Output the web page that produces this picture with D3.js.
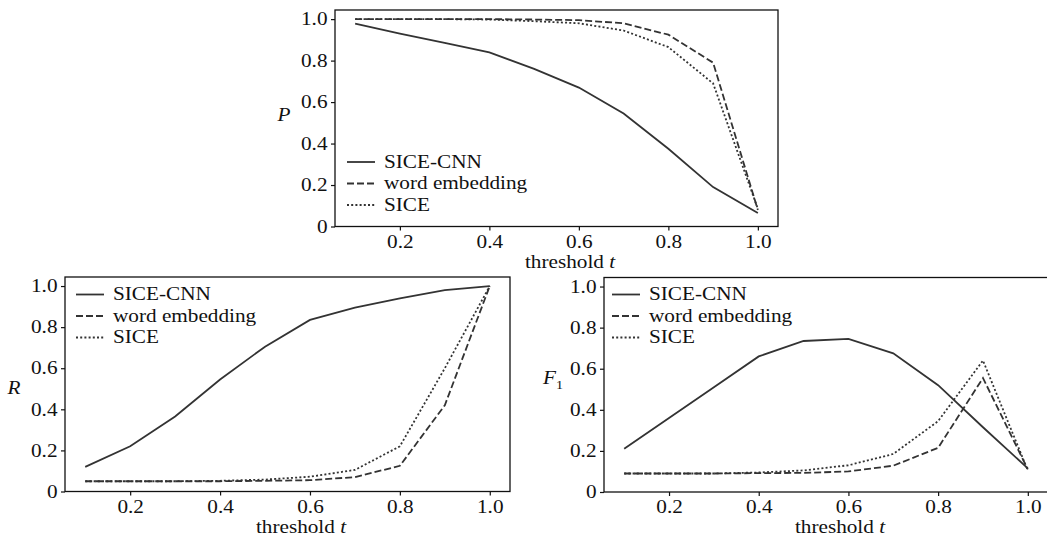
<!DOCTYPE html>
<html>
<head>
<meta charset="utf-8">
<script src="https://cdn.jsdelivr.net/npm/d3@7/dist/d3.min.js"></script>
</head>
<body style="margin:0;background:#fff">
<svg id="chart" width="1047" height="540" style="display:block"></svg>
<script>
// threshold values on the x axis
const thresholds = [0.1, 0.2, 0.3, 0.4, 0.5, 0.6, 0.7, 0.8, 0.9, 1.0];
const xTicks = [0.2, 0.4, 0.6, 0.8, 1.0];
const yTicks = [0, 0.2, 0.4, 0.6, 0.8, 1.0];
const seriesNames = ["SICE-CNN", "word embedding", "SICE"];

// P (precision)
const cnnP  = [0.978, 0.93, 0.885, 0.84, 0.76, 0.67, 0.545, 0.375, 0.19, 0.065];
const wordP = [1.0, 1.0, 1.0, 1.0, 0.998, 0.995, 0.98, 0.925, 0.79, 0.08];
const siceP = [1.0, 1.0, 1.0, 0.998, 0.99, 0.98, 0.945, 0.865, 0.69, 0.085];

// R (recall)
const cnnR  = [0.12, 0.22, 0.365, 0.545, 0.705, 0.835, 0.895, 0.94, 0.98, 1.0];
const wordR = [0.05, 0.05, 0.05, 0.05, 0.052, 0.055, 0.07, 0.125, 0.42, 1.0];
const siceR = [0.05, 0.05, 0.05, 0.052, 0.058, 0.072, 0.105, 0.22, 0.6, 1.0];

// F1
const cnnF  = [0.21, 0.36, 0.51, 0.66, 0.735, 0.745, 0.675, 0.52, 0.315, 0.115];
const wordF = [0.09, 0.09, 0.09, 0.092, 0.093, 0.1, 0.128, 0.215, 0.555, 0.11];
const siceF = [0.09, 0.09, 0.09, 0.095, 0.105, 0.13, 0.185, 0.345, 0.64, 0.105];

const svg = d3.select("#chart");
const lineColor = "#333";
const dashes = [null, "7,3", "2,2.2"];
const stretch = 1.18; // glyphs in the figure are wider than plain Times

//Make every text a bit wider around its own anchor, like the original figure
function widen(sel) {
    sel.each(function () {
        let ax = +(this.getAttribute("x") || 0);
        d3.select(this).attr("transform",
            "translate(" + ax + ",0) scale(" + stretch + ",1) translate(" + (-ax) + ",0)");
    });
}

function drawPanel(p) {
    let x = d3.scaleLinear().domain([0.055, 1.045]).range([p.left, p.right]);
    let y = d3.scaleLinear().domain([0, 1.044]).range([p.bottom, p.top]);
    let g = svg.append("g");

    //x axis
    let xa = g.append("g")
        .attr("transform", "translate(0," + p.bottom + ")")
        .call(d3.axisBottom(x).tickValues(xTicks).tickFormat(d3.format(".1f")).tickSize(4));
    xa.select(".domain").remove();
    xa.selectAll("line").attr("stroke", "#111").attr("stroke-width", 1.2);
    xa.selectAll("text").attr("dy", null).attr("y", 21.5);

    //y axis
    let ya = g.append("g")
        .attr("transform", "translate(" + p.left + ",0)")
        .call(d3.axisLeft(y).tickValues(yTicks).tickFormat(d => d === 0 ? "0" : d.toFixed(1)).tickSize(4).tickPadding(3.5));
    ya.select(".domain").remove();
    ya.selectAll("line").attr("stroke", "#111").attr("stroke-width", 1.2);

    //frame
    g.append("rect")
        .attr("x", p.left).attr("y", p.top)
        .attr("width", p.right - p.left).attr("height", p.bottom - p.top)
        .attr("fill", "none").attr("stroke", "#111").attr("stroke-width", 1.3);

    //lines
    let line = d3.line().x((d, i) => x(thresholds[i])).y(d => y(d));
    p.series.forEach((s, i) => {
        g.append("path")
            .datum(s)
            .attr("d", line)
            .attr("fill", "none")
            .attr("stroke", lineColor)
            .attr("stroke-width", 1.8)
            .attr("stroke-dasharray", dashes[i]);
    });

    //legend
    seriesNames.forEach((name, i) => {
        let by = p.legY + i * 21.5;
        g.append("line")
            .attr("x1", p.legX).attr("x2", p.legX + 28)
            .attr("y1", by - 6).attr("y2", by - 6)
            .attr("stroke", lineColor).attr("stroke-width", 1.8)
            .attr("stroke-dasharray", dashes[i]);
        g.append("text")
            .attr("x", p.legX + 37).attr("y", by)
            .text(name);
    });

    //x label
    let xl = g.append("text")
        .attr("x", p.xLabelX).attr("y", p.bottom + 41.5)
        .attr("text-anchor", "middle");
    xl.append("tspan").text("threshold ");
    xl.append("tspan").attr("font-style", "italic").text("t");

    //y label
    let yl = g.append("text")
        .attr("x", p.yLabelX).attr("y", p.yLabelY)
        .attr("text-anchor", "middle");
    yl.append("tspan").attr("font-style", "italic").text(p.yName);
    if (p.yName === "F") {
        yl.append("tspan").attr("class", "sub").attr("dy", 5).text("1");
    }

    g.selectAll("text")
        .attr("font-family", "Liberation Serif")
        .attr("font-size", 18)
        .attr("fill", "#111");
    g.selectAll("tspan.sub").attr("font-size", 12);
    widen(g.selectAll("text"));
}

drawPanel({
    left: 335, right: 778, top: 10, bottom: 226.5,
    series: [cnnP, wordP, siceP],
    legX: 347, legY: 168,
    xLabelX: 570, yLabelX: 284, yLabelY: 121, yName: "P"
});

drawPanel({
    left: 65, right: 510, top: 277, bottom: 491.5,
    series: [cnnR, wordR, siceR],
    legX: 76, legY: 300.5,
    xLabelX: 301, yLabelX: 14, yLabelY: 394, yName: "R"
});

drawPanel({
    left: 604, right: 1048, top: 277.5, bottom: 492,
    series: [cnnF, wordF, siceF],
    legX: 612, legY: 300.5,
    xLabelX: 840, yLabelX: 553, yLabelY: 384, yName: "F"
});
</script>
</body>
</html>
